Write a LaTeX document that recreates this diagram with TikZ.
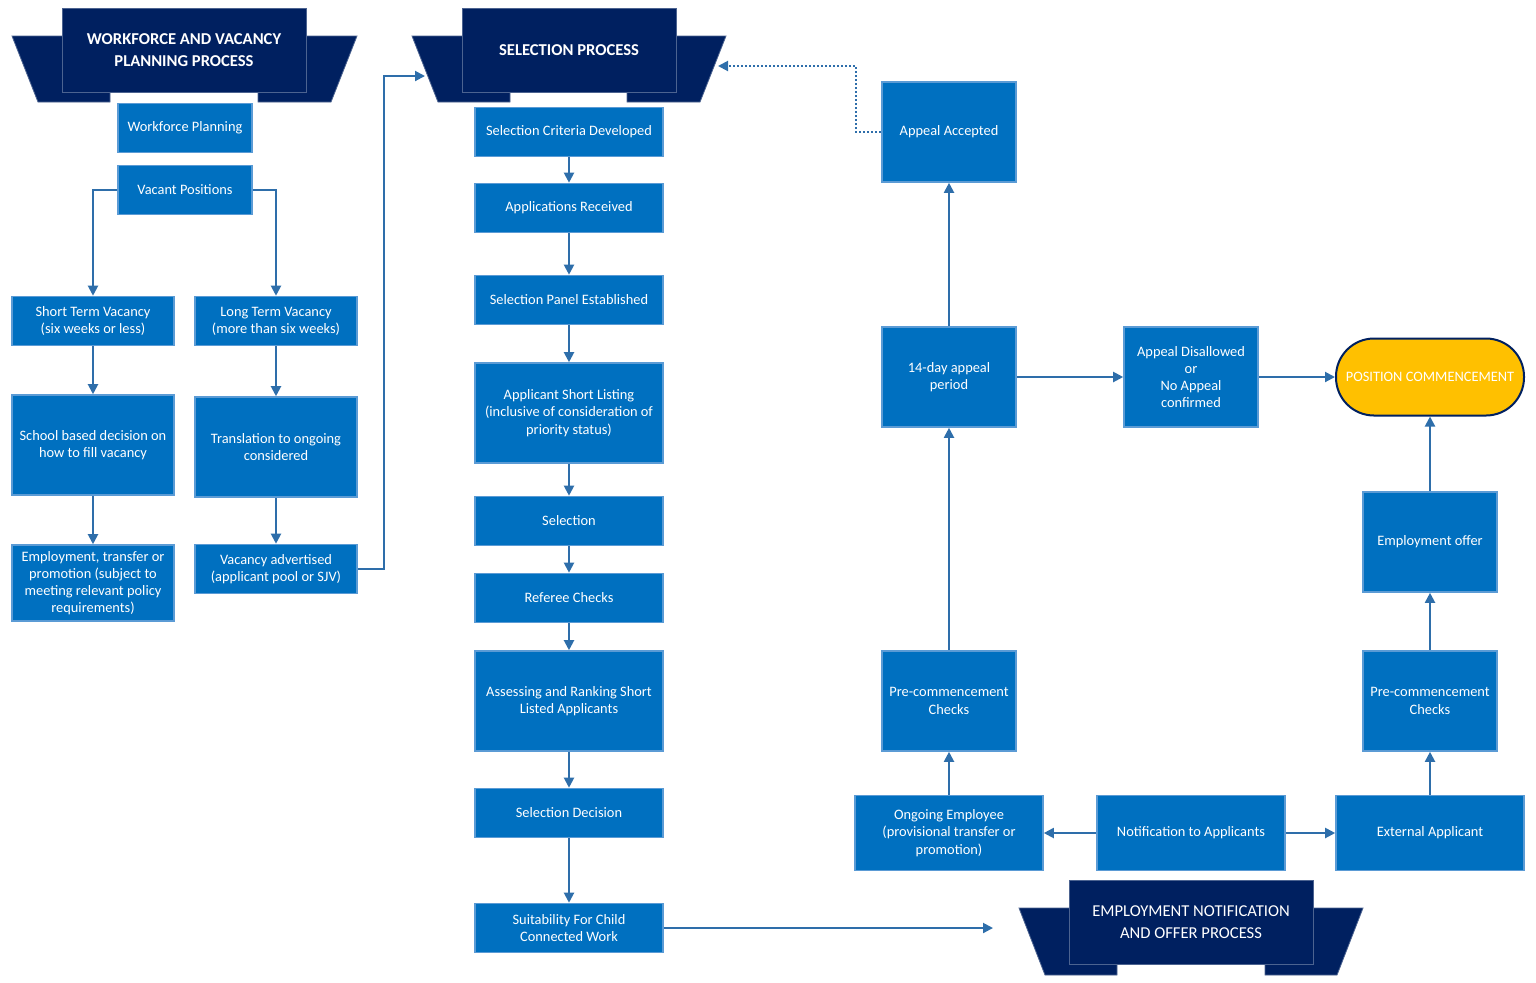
\documentclass[tikz,border=0pt]{standalone}
\usepackage{fontspec}
\setmainfont{Carlito}
\usetikzlibrary{arrows.meta, positioning, calc}
\definecolor{boxblue}{RGB}{0,112,192}
\definecolor{boxline}{RGB}{91,155,213}
\definecolor{navy}{RGB}{0,32,96}
\definecolor{linkblue}{RGB}{46,110,170}
\definecolor{gold}{RGB}{255,192,0}

\begin{document}
\begin{tikzpicture}[x=0.5pt, y=-0.5pt,
    box/.style={rectangle, draw=boxline, fill=boxblue, line width=0.8pt, text=white,
                minimum width=67pt, minimum height=24.5pt, align=center, inner sep=1pt,
                font=\fontsize{7.2}{8.6}\selectfont},
    wide/.style={box, minimum width=94pt},
    tall/.style={minimum height=50pt},
    banner/.style={rectangle, fill=navy, draw=navy!70, text=white, align=center,
                   font=\bfseries\fontsize{8.3}{11}\selectfont, inner sep=0pt},
    wing/.style={fill=navy, draw=navy!70},
    link/.style={-{Triangle[length=5pt, width=5pt]}, draw=linkblue, line width=1pt}]

    \useasboundingbox (0,0) rectangle (1536,982);

    % Banners
    \fill[wing] (12,36) -- (110,36) -- (110,102) -- (38,102) -- cycle;
    \fill[wing] (357,36) -- (258,36) -- (258,102) -- (331,102) -- cycle;
    \node[banner, minimum width=122pt, minimum height=42pt] (wvp) at (184,50) {WORKFORCE AND VACANCY\\PLANNING PROCESS};
    \fill[wing] (412,36) -- (510,36) -- (510,102) -- (438,102) -- cycle;
    \fill[wing] (726,36) -- (627,36) -- (627,102) -- (700,102) -- cycle;
    \node[banner, minimum width=107pt, minimum height=42pt] (sel) at (569,50) {SELECTION PROCESS};
    \fill[wing] (1019,908) -- (1117,908) -- (1117,975) -- (1045,975) -- cycle;
    \fill[wing] (1363,908) -- (1265,908) -- (1265,975) -- (1337,975) -- cycle;
    \node[banner, minimum width=122pt, minimum height=42pt, font=\fontsize{8.3}{11}\selectfont] (emp) at (1191,922) {EMPLOYMENT NOTIFICATION\\AND OFFER PROCESS};
    \coordinate (selin) at (425,76);
    \coordinate (selback) at (718,66);
    \coordinate (empin) at (993,928);

    % Workforce column
    \node[box] (wfp) at (185,128) {Workforce Planning};
    \node[box] (vac) at (185,190) {Vacant Positions};
    \node[box, minimum width=81pt] (stv) at (93,321) {Short Term Vacancy\\(six weeks or less)};
    \node[box, minimum width=81pt] (ltv) at (276,321) {Long Term Vacancy\\(more than six weeks)};
    \node[box, minimum width=81pt, tall] (sbd) at (93,445) {School based decision on\\how to fill vacancy};
    \node[box, minimum width=81pt, tall] (tro) at (276,447) {Translation to ongoing\\considered};
    \node[box, minimum width=81pt, minimum height=38pt] (etp) at (93,583) {Employment, transfer or\\promotion (subject to\\meeting relevant policy\\requirements)};
    \node[box, minimum width=81pt] (vad) at (276,569) {Vacancy advertised\\(applicant pool or SJV)};

    % Selection column
    \node[wide] (scd) at (569,132) {Selection Criteria Developed};
    \node[wide] (apr) at (569,208) {Applications Received};
    \node[wide] (spe) at (569,300) {Selection Panel Established};
    \node[wide, tall] (asl) at (569,413) {Applicant Short Listing\\(inclusive of consideration of\\priority status)};
    \node[wide] (slc) at (569,521) {Selection};
    \node[wide] (ref) at (569,598) {Referee Checks};
    \node[wide, tall] (asr) at (569,701) {Assessing and Ranking Short\\Listed Applicants};
    \node[wide] (sdc) at (569,813) {Selection Decision};
    \node[wide] (scw) at (569,928) {Suitability For Child\\Connected Work};

    % Employment side
    \node[box, tall] (apa) at (949,132) {Appeal Accepted};
    \node[box, tall] (dap) at (949,377) {14-day appeal\\period};
    \node[box, tall] (apd) at (1191,377) {Appeal Disallowed\\or\\No Appeal\\confirmed};
    \node[rectangle, rounded corners=19pt, draw=navy, fill=gold, line width=1pt, text=white,
          minimum width=94pt, minimum height=38.5pt, inner sep=0pt,
          font=\fontsize{7.2}{8.6}\selectfont] (pos) at (1430,377) {POSITION COMMENCEMENT};
    \node[box, tall] (eof) at (1430,542) {Employment offer};
    \node[box, tall] (pcr) at (1430,701) {Pre-commencement\\Checks};
    \node[box, tall] (pcl) at (949,701) {Pre-commencement\\Checks};
    \node[wide, minimum height=37.5pt] (oge) at (949,833) {Ongoing Employee\\(provisional transfer or\\promotion)};
    \node[wide, minimum height=37.5pt] (nta) at (1191,833) {Notification to Applicants};
    \node[wide, minimum height=37.5pt] (ext) at (1430,833) {External Applicant};

    % Arrows
    \draw[link] (vac.west) -| (stv.north);
    \draw[link] (vac.east) -| (ltv.north);
    \draw[link] (stv) -- (sbd);
    \draw[link] (sbd) -- (etp);
    \draw[link] (ltv) -- (tro);
    \draw[link] (tro) -- (vad);
    \draw[link] (vad.east) -- ++(26,0) |- (selin);
    \draw[link] (scd) -- (apr);
    \draw[link] (apr) -- (spe);
    \draw[link] (spe) -- (asl);
    \draw[link] (asl) -- (slc);
    \draw[link] (slc) -- (ref);
    \draw[link] (ref) -- (asr);
    \draw[link] (asr) -- (sdc);
    \draw[link] (sdc) -- (scw);
    \draw[link] (scw) -- (empin);
    \draw[link, densely dotted] (apa.west) -- ++(-25,0) |- (selback);
    \draw[link] (dap) -- (apa);
    \draw[link] (pcl) -- (dap);
    \draw[link] (oge) -- (pcl);
    \draw[link] (dap) -- (apd);
    \draw[link] (apd) -- (pos);
    \draw[link] (nta) -- (oge);
    \draw[link] (nta) -- (ext);
    \draw[link] (ext) -- (pcr);
    \draw[link] (pcr) -- (eof);
    \draw[link] (eof) -- (pos);
\end{tikzpicture}
\end{document}
